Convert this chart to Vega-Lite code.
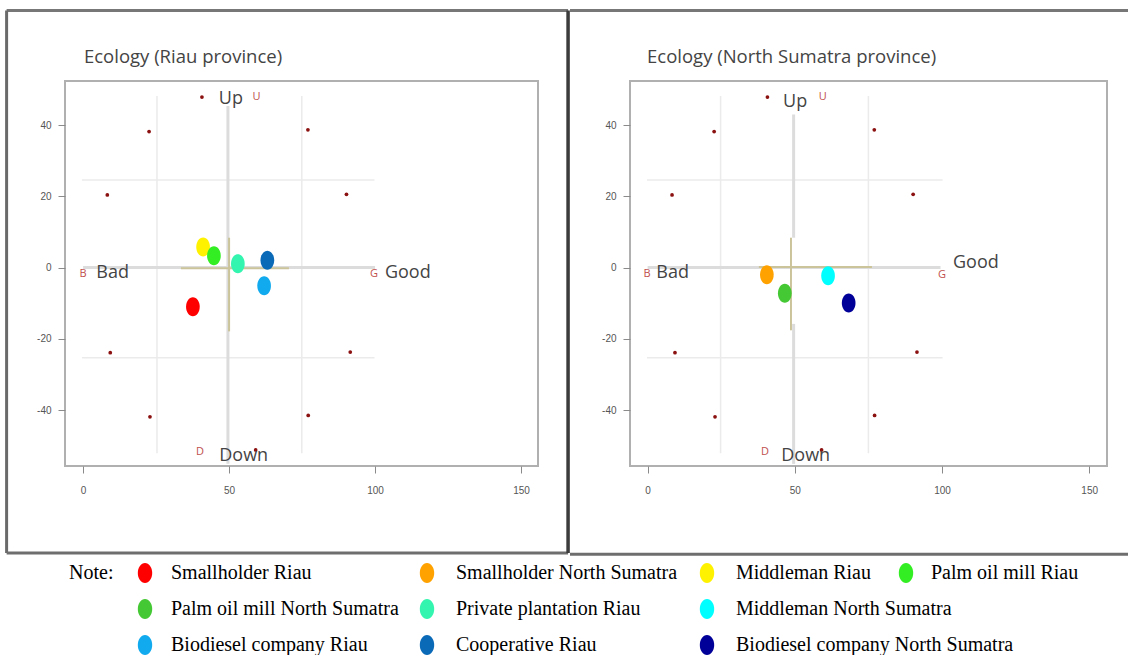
{
  "$schema": "https://vega.github.io/schema/vega-lite/v6.json",
  "background": "white",
  "padding": {"left": 4, "top": 7, "right": 0, "bottom": 0},
  "config": {"view": {"stroke": null}, "font": "Open Sans"},
  "datasets": {
    "actors": [
      {"actor": "Smallholder Riau", "province": "Riau", "x": 37.6, "y": -11.0},
      {"actor": "Middleman Riau", "province": "Riau", "x": 41.1, "y": 5.8},
      {"actor": "Palm oil mill Riau", "province": "Riau", "x": 44.8, "y": 3.3},
      {"actor": "Private plantation Riau", "province": "Riau", "x": 53.0, "y": 1.1},
      {"actor": "Cooperative Riau", "province": "Riau", "x": 63.1, "y": 2.1},
      {"actor": "Biodiesel company Riau", "province": "Riau", "x": 62.0, "y": -5.1},
      {"actor": "Smallholder North Sumatra", "province": "North Sumatra", "x": 40.5, "y": -2.0},
      {"actor": "Palm oil mill North Sumatra", "province": "North Sumatra", "x": 46.6, "y": -7.2},
      {"actor": "Middleman North Sumatra", "province": "North Sumatra", "x": 61.3, "y": -2.3},
      {"actor": "Biodiesel company North Sumatra", "province": "North Sumatra", "x": 68.3, "y": -9.9}
    ],
    "anchors": [
      {"x": 40.7, "y": 47.9}, {"x": 22.6, "y": 38.2}, {"x": 77.0, "y": 38.7},
      {"x": 8.3, "y": 20.4}, {"x": 90.2, "y": 20.6}, {"x": 9.3, "y": -23.9},
      {"x": 91.5, "y": -23.7}, {"x": 22.9, "y": -41.9}, {"x": 77.1, "y": -41.5},
      {"x": 59.1, "y": -51.2}
    ],
    "letters": [
      {"province": "Riau", "letter": "B", "x": 0, "y": -1.7},
      {"province": "Riau", "letter": "G", "x": 99.6, "y": -1.7},
      {"province": "Riau", "letter": "U", "x": 59.4, "y": 48.0},
      {"province": "Riau", "letter": "D", "x": 40.0, "y": -51.7},
      {"province": "North Sumatra", "letter": "B", "x": -0.2, "y": -1.8},
      {"province": "North Sumatra", "letter": "G", "x": 100.0, "y": -2.1},
      {"province": "North Sumatra", "letter": "U", "x": 59.5, "y": 48.0},
      {"province": "North Sumatra", "letter": "D", "x": 39.9, "y": -51.7}
    ],
    "labels": [
      {"province": "Riau", "label": "Up", "x": 50.6, "y": 47.3},
      {"province": "Riau", "label": "Down", "x": 55.0, "y": -52.9},
      {"province": "Riau", "label": "Bad", "x": 10.1, "y": -1.5},
      {"province": "Riau", "label": "Good", "x": 111.2, "y": -1.5},
      {"province": "North Sumatra", "label": "Up", "x": 50.1, "y": 46.5},
      {"province": "North Sumatra", "label": "Down", "x": 53.7, "y": -52.9},
      {"province": "North Sumatra", "label": "Bad", "x": 8.5, "y": -1.5},
      {"province": "North Sumatra", "label": "Good", "x": 111.5, "y": 1.2}
    ],
    "titles": [
      {"province": "Riau", "title": "Ecology (Riau province)"},
      {"province": "North Sumatra", "title": "Ecology (North Sumatra province)"}
    ],
    "segments": [
      {"province": "Riau", "kind": "grid", "x": 25.3, "y": 48.2, "x2": 25.3, "y2": -52.1},
      {"province": "Riau", "kind": "grid", "x": 74.9, "y": 48.2, "x2": 74.9, "y2": -52.1},
      {"province": "Riau", "kind": "grid", "x": -0.4, "y": 24.6, "x2": 99.8, "y2": 24.6},
      {"province": "Riau", "kind": "grid", "x": -0.4, "y": -25.3, "x2": 99.8, "y2": -25.3},
      {"province": "Riau", "kind": "cross", "x": 49.6, "y": 45.4, "x2": 49.6, "y2": -55.1},
      {"province": "Riau", "kind": "cross", "x": 0, "y": 0, "x2": 100, "y2": 0},
      {"province": "Riau", "kind": "error", "x": 33.5, "y": -0.2, "x2": 70.5, "y2": -0.2},
      {"province": "Riau", "kind": "error", "x": 50.0, "y": 8.4, "x2": 50.0, "y2": -17.9},
      {"province": "North Sumatra", "kind": "grid", "x": 24.8, "y": 48.2, "x2": 24.8, "y2": -52.1},
      {"province": "North Sumatra", "kind": "grid", "x": 75.0, "y": 48.2, "x2": 75.0, "y2": -52.1},
      {"province": "North Sumatra", "kind": "grid", "x": -0.2, "y": 24.6, "x2": 100.2, "y2": 24.6},
      {"province": "North Sumatra", "kind": "grid", "x": -0.2, "y": -25.3, "x2": 100.2, "y2": -25.3},
      {"province": "North Sumatra", "kind": "cross", "x": 49.6, "y": 43.0, "x2": 49.6, "y2": 8.4},
      {"province": "North Sumatra", "kind": "cross", "x": 49.6, "y": -15.8, "x2": 49.6, "y2": -55.1},
      {"province": "North Sumatra", "kind": "cross", "x": 0, "y": 0, "x2": 99.5, "y2": 0},
      {"province": "North Sumatra", "kind": "error", "x": 37.8, "y": 0.2, "x2": 76.2, "y2": 0.2},
      {"province": "North Sumatra", "kind": "error", "x": 48.7, "y": 8.4, "x2": 48.7, "y2": -17.6}
    ]
  },
  "spacing": 6,
  "vconcat": [
    {
      "hconcat": [
        {
          "width": 473,
          "height": 385,
          "view": {"stroke": "#b0b0b0", "strokeWidth": 2},
          "layer": [
            {
              "data": {"name": "segments"},
              "transform": [{"filter": "datum.province === 'Riau' && datum.kind === 'grid'"}],
              "mark": {"type": "rule", "color": "#ebebeb", "strokeWidth": 1.5},
              "encoding": {
                "x": {"field": "x", "type": "quantitative", "scale": {"domain": [-6.2, 155.8], "nice": false, "zero": false},
                      "axis": {"values": [0, 50, 100, 150], "title": null, "domain": false, "grid": false, "tickColor": "#8a8a8a", "tickSize": 7, "labelFont": "Liberation Sans", "labelFontSize": 10, "labelColor": "#555555", "labelPadding": 12, "labelExpr": "toString(datum.value)"}},
                "y": {"field": "y", "type": "quantitative", "scale": {"domain": [-55.7, 52.4], "nice": false, "zero": false},
                      "axis": {"values": [-40, -20, 0, 20, 40], "title": null, "domain": false, "grid": false, "tickColor": "#8a8a8a", "tickSize": 7, "labelFont": "Liberation Sans", "labelFontSize": 10, "labelColor": "#555555", "labelPadding": 7, "labelExpr": "toString(datum.value)"}},
                "x2": {"field": "x2"},
                "y2": {"field": "y2"}
              }
            },
            {
              "data": {"name": "segments"},
              "transform": [{"filter": "datum.province === 'Riau' && datum.kind === 'cross'"}],
              "mark": {"type": "rule", "color": "#dcdcdc", "strokeWidth": 3},
              "encoding": {"x": {"field": "x", "type": "quantitative"}, "y": {"field": "y", "type": "quantitative"}, "x2": {"field": "x2"}, "y2": {"field": "y2"}}
            },
            {
              "data": {"name": "segments"},
              "transform": [{"filter": "datum.province === 'Riau' && datum.kind === 'error'"}],
              "mark": {"type": "rule", "color": "#cbc49a", "strokeWidth": 2},
              "encoding": {"x": {"field": "x", "type": "quantitative"}, "y": {"field": "y", "type": "quantitative"}, "x2": {"field": "x2"}, "y2": {"field": "y2"}}
            },
            {
              "data": {"name": "anchors"},
              "mark": {"type": "circle", "color": "#8b1010", "size": 14, "opacity": 1},
              "encoding": {"x": {"field": "x", "type": "quantitative"}, "y": {"field": "y", "type": "quantitative"}}
            },
            {
              "data": {"name": "letters"},
              "transform": [{"filter": "datum.province === 'Riau'"}],
              "mark": {"type": "text", "color": "#c0504d", "fontSize": 11, "font": "Open Sans", "align": "center", "baseline": "middle"},
              "encoding": {"x": {"field": "x", "type": "quantitative"}, "y": {"field": "y", "type": "quantitative"}, "text": {"field": "letter"}}
            },
            {
              "data": {"name": "labels"},
              "transform": [{"filter": "datum.province === 'Riau'"}],
              "mark": {"type": "text", "color": "#444444", "fontSize": 18, "font": "Open Sans", "align": "center", "baseline": "middle"},
              "encoding": {"x": {"field": "x", "type": "quantitative"}, "y": {"field": "y", "type": "quantitative"}, "text": {"field": "label"}}
            },
            {
              "data": {"name": "actors"},
              "transform": [{"filter": "datum.province === 'Riau'"}],
              "mark": {"type": "point", "filled": true, "opacity": 1, "size": 361, "shape": "M0,-1C0.3977,-1,0.72,-0.5523,0.72,0C0.72,0.5523,0.3977,1,0,1C-0.3977,1,-0.72,0.5523,-0.72,0C-0.72,-0.5523,-0.3977,-1,0,-1Z"},
              "encoding": {
                "x": {"field": "x", "type": "quantitative"},
                "y": {"field": "y", "type": "quantitative"},
                "color": {"field": "actor", "type": "nominal", "legend": null,
                  "scale": {"domain": ["Smallholder Riau", "Smallholder North Sumatra", "Middleman Riau", "Palm oil mill Riau", "Palm oil mill North Sumatra", "Private plantation Riau", "Middleman North Sumatra", "Biodiesel company Riau", "Cooperative Riau", "Biodiesel company North Sumatra"],
                            "range": ["#ff0000", "#ffa200", "#fff200", "#33ee22", "#44c833", "#33f5b0", "#00ffff", "#11aaee", "#0a6ab8", "#000099"]}}
              }
            },
            {
              "data": {"name": "titles"},
              "transform": [{"filter": "datum.province === 'Riau'"}],
              "mark": {"type": "text", "align": "left", "baseline": "alphabetic", "font": "Open Sans", "fontSize": 18.5, "color": "#444444"},
              "encoding": {"x": {"datum": 0.3, "type": "quantitative"}, "y": {"datum": 57.4, "type": "quantitative"}, "text": {"field": "title"}}
            },
            {
              "data": {"values": [{}]},
              "mark": {"type": "rule", "color": "#777777", "strokeWidth": 3},
              "encoding": {"x": {"datum": -26.2, "type": "quantitative"}, "x2": {"datum": 166.1}, "y": {"datum": 72.2, "type": "quantitative"}}
            },
            {
              "data": {"values": [{}]},
              "mark": {"type": "rule", "color": "#6a6a6a", "strokeWidth": 3},
              "encoding": {"x": {"datum": -26.2, "type": "quantitative"}, "y": {"datum": 72.2, "type": "quantitative"}, "y2": {"datum": -80.1}}
            },
            {
              "data": {"values": [{}]},
              "mark": {"type": "rule", "color": "#6e6e6e", "strokeWidth": 3},
              "encoding": {"x": {"datum": -26.2, "type": "quantitative"}, "x2": {"datum": 166.1}, "y": {"datum": -80.1, "type": "quantitative"}}
            },
            {
              "data": {"values": [{}]},
              "mark": {"type": "rule", "color": "#3c3c3c", "strokeWidth": 3.5},
              "encoding": {"x": {"datum": 166.1, "type": "quantitative"}, "y": {"datum": 72.2, "type": "quantitative"}, "y2": {"datum": -80.1}}
            }
          ]
        },
        {
          "width": 477,
          "height": 385,
          "view": {"stroke": "#b0b0b0", "strokeWidth": 2},
          "layer": [
            {
              "data": {"name": "segments"},
              "transform": [{"filter": "datum.province === 'North Sumatra' && datum.kind === 'grid'"}],
              "mark": {"type": "rule", "color": "#ebebeb", "strokeWidth": 1.5},
              "encoding": {
                "x": {"field": "x", "type": "quantitative", "scale": {"domain": [-5.98, 156.05], "nice": false, "zero": false},
                      "axis": {"values": [0, 50, 100, 150], "title": null, "domain": false, "grid": false, "tickColor": "#8a8a8a", "tickSize": 7, "labelFont": "Liberation Sans", "labelFontSize": 10, "labelColor": "#555555", "labelPadding": 12, "labelExpr": "toString(datum.value)"}},
                "y": {"field": "y", "type": "quantitative", "scale": {"domain": [-55.7, 52.4], "nice": false, "zero": false},
                      "axis": {"values": [-40, -20, 0, 20, 40], "title": null, "domain": false, "grid": false, "tickColor": "#8a8a8a", "tickSize": 7, "labelFont": "Liberation Sans", "labelFontSize": 10, "labelColor": "#555555", "labelPadding": 7, "labelExpr": "toString(datum.value)"}},
                "x2": {"field": "x2"},
                "y2": {"field": "y2"}
              }
            },
            {
              "data": {"name": "segments"},
              "transform": [{"filter": "datum.province === 'North Sumatra' && datum.kind === 'cross'"}],
              "mark": {"type": "rule", "color": "#dcdcdc", "strokeWidth": 3},
              "encoding": {"x": {"field": "x", "type": "quantitative"}, "y": {"field": "y", "type": "quantitative"}, "x2": {"field": "x2"}, "y2": {"field": "y2"}}
            },
            {
              "data": {"name": "segments"},
              "transform": [{"filter": "datum.province === 'North Sumatra' && datum.kind === 'error'"}],
              "mark": {"type": "rule", "color": "#cbc49a", "strokeWidth": 2},
              "encoding": {"x": {"field": "x", "type": "quantitative"}, "y": {"field": "y", "type": "quantitative"}, "x2": {"field": "x2"}, "y2": {"field": "y2"}}
            },
            {
              "data": {"name": "anchors"},
              "mark": {"type": "circle", "color": "#8b1010", "size": 14, "opacity": 1},
              "encoding": {"x": {"field": "x", "type": "quantitative"}, "y": {"field": "y", "type": "quantitative"}}
            },
            {
              "data": {"name": "letters"},
              "transform": [{"filter": "datum.province === 'North Sumatra'"}],
              "mark": {"type": "text", "color": "#c0504d", "fontSize": 11, "font": "Open Sans", "align": "center", "baseline": "middle"},
              "encoding": {"x": {"field": "x", "type": "quantitative"}, "y": {"field": "y", "type": "quantitative"}, "text": {"field": "letter"}}
            },
            {
              "data": {"name": "labels"},
              "transform": [{"filter": "datum.province === 'North Sumatra'"}],
              "mark": {"type": "text", "color": "#444444", "fontSize": 18, "font": "Open Sans", "align": "center", "baseline": "middle"},
              "encoding": {"x": {"field": "x", "type": "quantitative"}, "y": {"field": "y", "type": "quantitative"}, "text": {"field": "label"}}
            },
            {
              "data": {"name": "actors"},
              "transform": [{"filter": "datum.province === 'North Sumatra'"}],
              "mark": {"type": "point", "filled": true, "opacity": 1, "size": 361, "shape": "M0,-1C0.3977,-1,0.72,-0.5523,0.72,0C0.72,0.5523,0.3977,1,0,1C-0.3977,1,-0.72,0.5523,-0.72,0C-0.72,-0.5523,-0.3977,-1,0,-1Z"},
              "encoding": {
                "x": {"field": "x", "type": "quantitative"},
                "y": {"field": "y", "type": "quantitative"},
                "color": {"field": "actor", "type": "nominal", "legend": null,
                  "scale": {"domain": ["Smallholder Riau", "Smallholder North Sumatra", "Middleman Riau", "Palm oil mill Riau", "Palm oil mill North Sumatra", "Private plantation Riau", "Middleman North Sumatra", "Biodiesel company Riau", "Cooperative Riau", "Biodiesel company North Sumatra"],
                            "range": ["#ff0000", "#ffa200", "#fff200", "#33ee22", "#44c833", "#33f5b0", "#00ffff", "#11aaee", "#0a6ab8", "#000099"]}}
              }
            },
            {
              "data": {"name": "titles"},
              "transform": [{"filter": "datum.province === 'North Sumatra'"}],
              "mark": {"type": "text", "align": "left", "baseline": "alphabetic", "font": "Open Sans", "fontSize": 18.5, "color": "#444444"},
              "encoding": {"x": {"datum": -0.2, "type": "quantitative"}, "y": {"datum": 57.4, "type": "quantitative"}, "text": {"field": "title"}}
            },
            {
              "data": {"values": [{}]},
              "mark": {"type": "rule", "color": "#777777", "strokeWidth": 3},
              "encoding": {"x": {"datum": -26.36, "type": "quantitative"}, "x2": {"datum": 163.2}, "y": {"datum": 72.2, "type": "quantitative"}}
            },
            {
              "data": {"values": [{}]},
              "mark": {"type": "rule", "color": "#6e6e6e", "strokeWidth": 3},
              "encoding": {"x": {"datum": -26.36, "type": "quantitative"}, "x2": {"datum": 163.2}, "y": {"datum": -80.5, "type": "quantitative"}}
            }
          ]
        }
      ],
      "spacing": 92,
      "bounds": "flush"
    },
    {
      "hconcat": [
        {
          "width": 80,
          "height": 72,
          "data": {"values": [{"note": "Note:"}]},
          "mark": {"type": "text", "align": "left", "baseline": "middle", "font": "Liberation Serif", "fontSize": 20, "color": "#000000"},
          "encoding": {
            "text": {"field": "note"},
            "x": {"datum": 0.05, "type": "quantitative", "scale": {"domain": [0, 1]}, "axis": null},
            "y": {"datum": 1, "type": "quantitative", "scale": {"domain": [0, 1]}, "axis": null}
          }
        },
        {
          "width": 282,
          "height": 72,
          "data": {"name": "actors"},
          "transform": [{"filter": {"field": "actor", "oneOf": ["Smallholder Riau", "Palm oil mill North Sumatra", "Biodiesel company Riau"]}}],
          "encoding": {
            "y": {"field": "actor", "type": "nominal", "scale": {"domain": ["Smallholder Riau", "Palm oil mill North Sumatra", "Biodiesel company Riau"], "padding": 0}, "axis": null},
            "x": {"datum": 0, "type": "quantitative", "scale": {"domain": [0, 1]}, "axis": null}
          },
          "layer": [
            {"mark": {"type": "point", "filled": true, "opacity": 1, "size": 400, "shape": "M0,-1C0.3977,-1,0.72,-0.5523,0.72,0C0.72,0.5523,0.3977,1,0,1C-0.3977,1,-0.72,0.5523,-0.72,0C-0.72,-0.5523,-0.3977,-1,0,-1Z"},
             "encoding": {"color": {"field": "actor", "type": "nominal", "legend": null,
                  "scale": {"domain": ["Smallholder Riau", "Smallholder North Sumatra", "Middleman Riau", "Palm oil mill Riau", "Palm oil mill North Sumatra", "Private plantation Riau", "Middleman North Sumatra", "Biodiesel company Riau", "Cooperative Riau", "Biodiesel company North Sumatra"],
                            "range": ["#ff0000", "#ffa200", "#fff200", "#33ee22", "#44c833", "#33f5b0", "#00ffff", "#11aaee", "#0a6ab8", "#000099"]}}}},
            {"mark": {"type": "text", "align": "left", "baseline": "middle", "dx": 26, "font": "Liberation Serif", "fontSize": 20, "color": "#000000"},
             "encoding": {"text": {"field": "actor"}}}
          ]
        },
        {
          "width": 280,
          "height": 72,
          "data": {"name": "actors"},
          "transform": [{"filter": {"field": "actor", "oneOf": ["Smallholder North Sumatra", "Private plantation Riau", "Cooperative Riau"]}}],
          "encoding": {
            "y": {"field": "actor", "type": "nominal", "scale": {"domain": ["Smallholder North Sumatra", "Private plantation Riau", "Cooperative Riau"], "padding": 0}, "axis": null},
            "x": {"datum": 0, "type": "quantitative", "scale": {"domain": [0, 1]}, "axis": null}
          },
          "layer": [
            {"mark": {"type": "point", "filled": true, "opacity": 1, "size": 400, "shape": "M0,-1C0.3977,-1,0.72,-0.5523,0.72,0C0.72,0.5523,0.3977,1,0,1C-0.3977,1,-0.72,0.5523,-0.72,0C-0.72,-0.5523,-0.3977,-1,0,-1Z"},
             "encoding": {"color": {"field": "actor", "type": "nominal", "legend": null,
                  "scale": {"domain": ["Smallholder Riau", "Smallholder North Sumatra", "Middleman Riau", "Palm oil mill Riau", "Palm oil mill North Sumatra", "Private plantation Riau", "Middleman North Sumatra", "Biodiesel company Riau", "Cooperative Riau", "Biodiesel company North Sumatra"],
                            "range": ["#ff0000", "#ffa200", "#fff200", "#33ee22", "#44c833", "#33f5b0", "#00ffff", "#11aaee", "#0a6ab8", "#000099"]}}}},
            {"mark": {"type": "text", "align": "left", "baseline": "middle", "dx": 29, "font": "Liberation Serif", "fontSize": 20, "color": "#000000"},
             "encoding": {"text": {"field": "actor"}}}
          ]
        },
        {
          "width": 199,
          "height": 72,
          "data": {"name": "actors"},
          "transform": [{"filter": {"field": "actor", "oneOf": ["Middleman Riau", "Middleman North Sumatra", "Biodiesel company North Sumatra"]}}],
          "encoding": {
            "y": {"field": "actor", "type": "nominal", "scale": {"domain": ["Middleman Riau", "Middleman North Sumatra", "Biodiesel company North Sumatra"], "padding": 0}, "axis": null},
            "x": {"datum": 0, "type": "quantitative", "scale": {"domain": [0, 1]}, "axis": null}
          },
          "layer": [
            {"mark": {"type": "point", "filled": true, "opacity": 1, "size": 400, "shape": "M0,-1C0.3977,-1,0.72,-0.5523,0.72,0C0.72,0.5523,0.3977,1,0,1C-0.3977,1,-0.72,0.5523,-0.72,0C-0.72,-0.5523,-0.3977,-1,0,-1Z"},
             "encoding": {"color": {"field": "actor", "type": "nominal", "legend": null,
                  "scale": {"domain": ["Smallholder Riau", "Smallholder North Sumatra", "Middleman Riau", "Palm oil mill Riau", "Palm oil mill North Sumatra", "Private plantation Riau", "Middleman North Sumatra", "Biodiesel company Riau", "Cooperative Riau", "Biodiesel company North Sumatra"],
                            "range": ["#ff0000", "#ffa200", "#fff200", "#33ee22", "#44c833", "#33f5b0", "#00ffff", "#11aaee", "#0a6ab8", "#000099"]}}}},
            {"mark": {"type": "text", "align": "left", "baseline": "middle", "dx": 29, "font": "Liberation Serif", "fontSize": 20, "color": "#000000"},
             "encoding": {"text": {"field": "actor"}}}
          ]
        },
        {
          "width": 190,
          "height": 72,
          "data": {"name": "actors"},
          "transform": [{"filter": {"field": "actor", "oneOf": ["Palm oil mill Riau"]}}],
          "encoding": {
            "y": {"field": "actor", "type": "nominal", "scale": {"domain": ["Palm oil mill Riau", " ", "  "], "padding": 0}, "axis": null},
            "x": {"datum": 0, "type": "quantitative", "scale": {"domain": [0, 1]}, "axis": null}
          },
          "layer": [
            {"mark": {"type": "point", "filled": true, "opacity": 1, "size": 400, "shape": "M0,-1C0.3977,-1,0.72,-0.5523,0.72,0C0.72,0.5523,0.3977,1,0,1C-0.3977,1,-0.72,0.5523,-0.72,0C-0.72,-0.5523,-0.3977,-1,0,-1Z"},
             "encoding": {"color": {"field": "actor", "type": "nominal", "legend": null,
                  "scale": {"domain": ["Smallholder Riau", "Smallholder North Sumatra", "Middleman Riau", "Palm oil mill Riau", "Palm oil mill North Sumatra", "Private plantation Riau", "Middleman North Sumatra", "Biodiesel company Riau", "Cooperative Riau", "Biodiesel company North Sumatra"],
                            "range": ["#ff0000", "#ffa200", "#fff200", "#33ee22", "#44c833", "#33f5b0", "#00ffff", "#11aaee", "#0a6ab8", "#000099"]}}}},
            {"mark": {"type": "text", "align": "left", "baseline": "middle", "dx": 25, "font": "Liberation Serif", "fontSize": 20, "color": "#000000"},
             "encoding": {"text": {"field": "actor"}}}
          ]
        }
      ],
      "spacing": 0,
      "bounds": "flush"
    }
  ]
}
